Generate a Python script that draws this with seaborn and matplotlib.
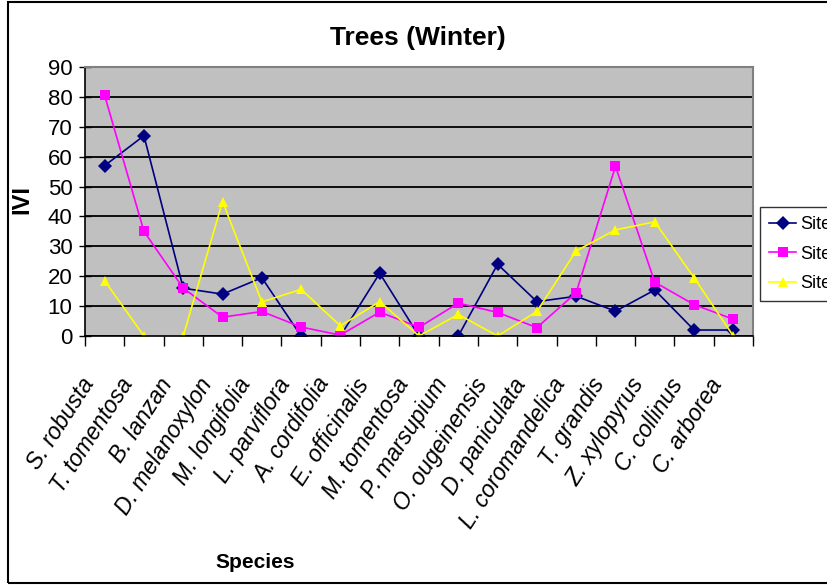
import matplotlib
matplotlib.use("Agg")
import matplotlib.pyplot as plt
from matplotlib.patches import Rectangle
from matplotlib.ticker import MultipleLocator
from matplotlib.transforms import ScaledTranslation
import seaborn as sns
import pandas as pd
import numpy as np

species = ["S. robusta", "T. tomentosa", "B. lanzan", "D. melanoxylon",
           "M. longifolia", "L. parviflora", "A. cordifolia", "E. officinalis",
           "M. tomentosa", "P. marsupium", "O. ougeinensis", "D. paniculata",
           "L. coromandelica", "T. grandis", "Z. xylopyrus", "C. collinus",
           "C. arborea"]

site_1 = [57, 67, 16, 14, 19.5, 0, 0, 21, 0, 0, 24, 11.5, 13.3, 8.3, 15.4, 2, 2]
site_2 = [80.5, 35, 16, 6.3, 8.2, 3, 0.3, 8, 2.9, 11, 7.9, 2.8, 14.5, 56.8, 18, 10.5, 5.6]
site_3 = [18.5, 0, 0, 45, 11.4, 15.6, 3.4, 11.5, 0, 7.2, 0, 8.2, 28.5, 35.5, 38.2, 19.5, 0]

sites = ["Site-I", "Site-II", "Site-III"]
colors = ["#000080", "#FF00FF", "#FFFF00"]
markers = ["D", "s", "^"]

df = pd.DataFrame({
    "Species": species * 3,
    "IVI": site_1 + site_2 + site_3,
    "Site": [s for s in sites for _ in species],
})
df["x"] = [i for _ in sites for i in range(len(species))]

plt.rcParams["font.family"] = ["Liberation Sans", "DejaVu Sans"]

fig = plt.figure(figsize=(8.27, 5.85), dpi=100)
ax = fig.add_axes([85 / 827, 1 - 336 / 585, 668 / 827, 269 / 585])
ax.set_facecolor("#C0C0C0")

sns.lineplot(data=df, x="x", y="IVI", hue="Site", style="Site",
             palette=dict(zip(sites, colors)), markers=dict(zip(sites, markers)),
             dashes=False, linewidth=1.2, markersize=7, markeredgewidth=0,
             ax=ax, legend=False)

ax.set_xlim(-0.5, len(species) - 0.5)
ax.set_ylim(0, 90)
ax.yaxis.set_major_locator(MultipleLocator(10))
ax.grid(axis="y", color="black", linewidth=1.3)
ax.set_axisbelow(True)

ax.set_xticks(range(len(species)))
ax.set_xticklabels(species, rotation=57, ha="right", va="top",
                   rotation_mode="anchor", fontsize=16.5, style="italic")
ax.set_xticks(np.arange(-0.5, len(species)), minor=True)
ax.tick_params(axis="x", which="major", length=0, pad=0)
ax.tick_params(axis="x", which="minor", length=7, width=1, color="black",
               direction="out")
ax.tick_params(axis="y", labelsize=16, length=8, width=1, direction="inout", pad=5)

for side in ["top", "right"]:
    ax.spines[side].set_color("#808080")
    ax.spines[side].set_linewidth(1.5)
for side in ["left", "bottom"]:
    ax.spines[side].set_color("black")
    ax.spines[side].set_linewidth(1.2)

ax.set_xlabel("")
ax.set_ylabel("")

shift = ScaledTranslation(-25 / 100, -38 / 100, fig.dpi_scale_trans)
for lab in ax.get_xticklabels():
    lab.set_transform(lab.get_transform() + shift)

fig.text(418 / 827, 1 - 38 / 585, "Trees (Winter)", ha="center", va="center",
         fontsize=19, fontweight="bold")
fig.text(255 / 827, 1 - 563 / 585, "Species", ha="center", va="center",
         fontsize=15, fontweight="bold")
fig.text(22 / 827, 1 - 199 / 585, "IVI", ha="center", va="center",
         fontsize=17, fontweight="bold", rotation=90)

handles = [plt.Line2D([], [], color=c, marker=m, markersize=7,
                      markeredgewidth=0, linewidth=1.2)
           for c, m in zip(colors, markers)]
leg = fig.legend(handles, sites, loc="upper left",
                 bbox_to_anchor=(760 / 827, 1 - 207 / 585), fontsize=13,
                 frameon=True, fancybox=False, edgecolor="black",
                 borderpad=0.5, handlelength=1.5, handletextpad=0.2,
                 labelspacing=0.7, borderaxespad=0)
leg.get_frame().set_linewidth(1)

fig.patches.append(Rectangle((8 / 827, 2 / 585), 1.0, 581 / 585,
                             transform=fig.transFigure, fill=False,
                             edgecolor="black", linewidth=1.5))

fig.savefig("out.png", dpi=100)
